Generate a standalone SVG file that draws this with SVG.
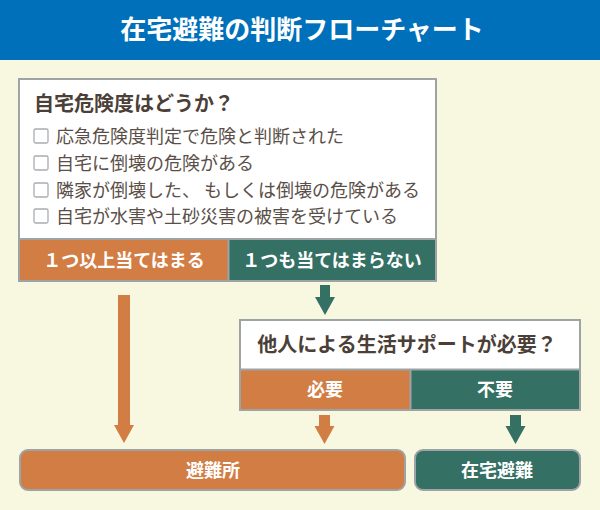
<svg xmlns="http://www.w3.org/2000/svg" width="600" height="510" viewBox="0 0 600 510">
<style>
text{font-family:"Noto Sans CJK JP","Noto Sans",sans-serif}
.hd{fill:#fff;font-weight:700;font-size:26px}
.q{fill:#4b3f37;font-weight:700;font-size:20px}
.it{fill:#5a4f48;font-size:18px}
.lb{fill:#fff;font-weight:700;font-size:18px}
.box{fill:#fff;stroke:#9ea3a6;stroke-width:2}
.org{fill:#d27d44}
.grn{fill:#357064}
.sep{stroke:#9ea3a6;stroke-width:2}
.cb{fill:#fff;stroke:#a9adb1;stroke-width:1.3}
.end{stroke:#9ea3a6;stroke-width:2}
</style>
<defs>
<path id="arrowHead" d="M-10,0 H10 L0,18 Z"/>
</defs>
<rect width="600" height="510" fill="#f8f7e0"/>
<g id="header">
<rect width="600" height="60" fill="#0070bb"/>
<text class="hd" x="302" y="39" text-anchor="middle">在宅避難の判断フローチャート</text>
</g>
<g id="q1">
<rect class="box" x="19" y="79" width="417" height="202"/>
<text class="q" x="34" y="111">自宅危険度はどうか&#xFF1F;</text>
<rect class="cb" x="34" y="129" width="14" height="14" rx="1.5"/>
<text class="it" x="56" y="143">応急危険度判定で危険と判断された</text>
<rect class="cb" x="34" y="156" width="14" height="14" rx="1.5"/>
<text class="it" x="56" y="170">自宅に倒壊の危険がある</text>
<rect class="cb" x="34" y="183" width="14" height="14" rx="1.5"/>
<text class="it" x="56" y="197">隣家が倒壊した、 もしくは倒壊の危険がある</text>
<rect class="cb" x="34" y="209" width="14" height="14" rx="1.5"/>
<text class="it" x="56" y="223">自宅が水害や土砂災害の被害を受けている</text>
<rect class="org" x="20" y="240" width="208" height="40"/>
<rect class="grn" x="229" y="240" width="206" height="40"/>
<line class="sep" x1="19" y1="239" x2="436" y2="239"/>
<line class="sep" x1="228.5" y1="239" x2="228.5" y2="281"/>
<text class="lb" x="124" y="267" text-anchor="middle">&#xFF11;つ以上当てはまる</text>
<text class="lb" x="332" y="267" text-anchor="middle">&#xFF11;つも当てはまらない</text>
</g>
<g id="q2">
<rect class="box" x="240" y="320" width="340" height="90"/>
<rect class="org" x="241" y="370" width="169" height="39"/>
<rect class="grn" x="411" y="370" width="168" height="39"/>
<line class="sep" x1="240" y1="369.5" x2="580" y2="369.5"/>
<line class="sep" x1="410.5" y1="369" x2="410.5" y2="410"/>
<text class="q" x="407" y="352" text-anchor="middle">他人による生活サポートが必要&#xFF1F;</text>
<text class="lb" x="325" y="396" text-anchor="middle">必要</text>
<text class="lb" x="495" y="396" text-anchor="middle">不要</text>
</g>
<g id="shelter">
<rect class="org end" x="20" y="450" width="385" height="40" rx="8"/>
<text class="lb" x="213" y="477" text-anchor="middle">避難所</text>
</g>
<g id="home">
<rect class="grn end" x="415" y="450" width="165" height="40" rx="8"/>
<text class="lb" x="497" y="477" text-anchor="middle">在宅避難</text>
</g>
<g id="connectors">
<rect class="org" x="118" y="295" width="12" height="131"/>
<use href="#arrowHead" x="124" y="425" class="org"/>
<rect class="grn" x="320" y="285" width="10" height="13"/>
<use href="#arrowHead" x="325" y="297" class="grn"/>
<rect class="org" x="319" y="415" width="11" height="12"/>
<use href="#arrowHead" x="324.5" y="426" class="org"/>
<rect class="grn" x="510" y="415" width="11" height="12"/>
<use href="#arrowHead" x="515.5" y="426" class="grn"/>
</g>
</svg>
